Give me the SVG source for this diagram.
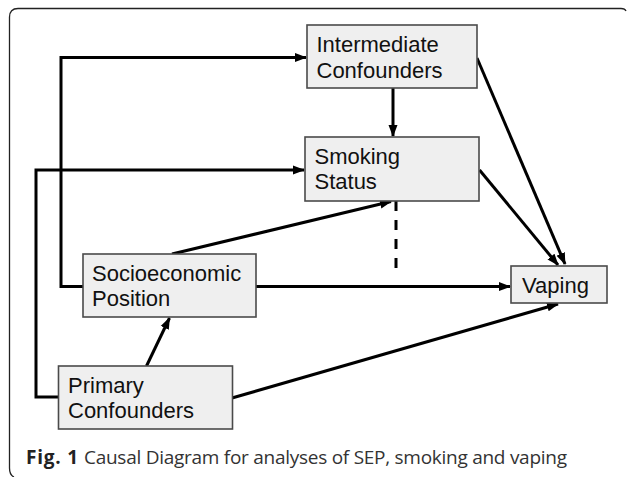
<svg xmlns="http://www.w3.org/2000/svg" width="627" height="477" viewBox="0 0 627 477">
<defs>
<style>
.box{fill:#efefef;stroke:#4a4a4a;stroke-width:1.6}
.lbl{font-family:"Liberation Sans",Arial,sans-serif;font-size:22px;fill:#111}
.edge{fill:none;stroke:#000;stroke-width:3}
.dash{stroke-dasharray:10,9}
.cap{font-family:"Open Sans","Noto Sans",sans-serif;font-size:19px;fill:#333}
</style>
<marker id="ah" markerUnits="userSpaceOnUse" markerWidth="12" markerHeight="10" refX="11" refY="5" orient="auto">
<path d="M0,0.5 L12,5 L0,9.5 Z" fill="#000"/>
</marker>
</defs>
<rect width="627" height="477" fill="#fff"/>
<path d="M626,11 Q625,8.5 621,8.5 H18 Q9.5,8.5 9.5,17 V468 Q9.5,475 14,477" fill="none" stroke="#222" stroke-width="1.3"/>
<g id="connectors">
<path class="edge" d="M83,286.5 H61 V57.5 H306" marker-end="url(#ah)"/>
<path class="edge" d="M58,397 H36 V170 H304" marker-end="url(#ah)"/>
<path class="edge" d="M393,88 V136" marker-end="url(#ah)"/>
<path class="edge" d="M172,254 L391,201.5" marker-end="url(#ah)"/>
<path class="edge dash" d="M396,201 V277"/>
<path class="edge" d="M256,286.5 H510" marker-end="url(#ah)"/>
<path class="edge" d="M146.5,366 L169.5,318" marker-end="url(#ah)"/>
<path class="edge" d="M232,398 L558,304" marker-end="url(#ah)"/>
<path class="edge" d="M479.5,170 L558,265" marker-end="url(#ah)"/>
<path class="edge" d="M477,58 L565,264" marker-end="url(#ah)"/>
</g>
<g id="intermediate">
<rect class="box" x="307" y="25" width="170" height="63"/>
<text class="lbl" x="316.5" y="52">Intermediate</text>
<text class="lbl" x="316.5" y="77.5">Confounders</text>
</g>
<g id="smoking">
<rect class="box" x="305" y="137" width="174" height="64"/>
<text class="lbl" x="314.5" y="163.5">Smoking</text>
<text class="lbl" x="314.5" y="189">Status</text>
</g>
<g id="sep">
<rect class="box" x="83" y="254" width="173" height="63"/>
<text class="lbl" x="92" y="280.5">Socioeconomic</text>
<text class="lbl" x="92" y="306">Position</text>
</g>
<g id="primary">
<rect class="box" x="58.5" y="366" width="174" height="63"/>
<text class="lbl" x="68" y="392.5">Primary</text>
<text class="lbl" x="68" y="418">Confounders</text>
</g>
<g id="vaping">
<rect class="box" x="511" y="266" width="96" height="37"/>
<text class="lbl" x="522" y="293">Vaping</text>
</g>
<text class="cap" y="463.5"><tspan x="26" font-weight="bold" fill="#222" textLength="52">Fig. 1</tspan><tspan x="84" textLength="483">Causal Diagram for analyses of SEP, smoking and vaping</tspan></text>
</svg>
